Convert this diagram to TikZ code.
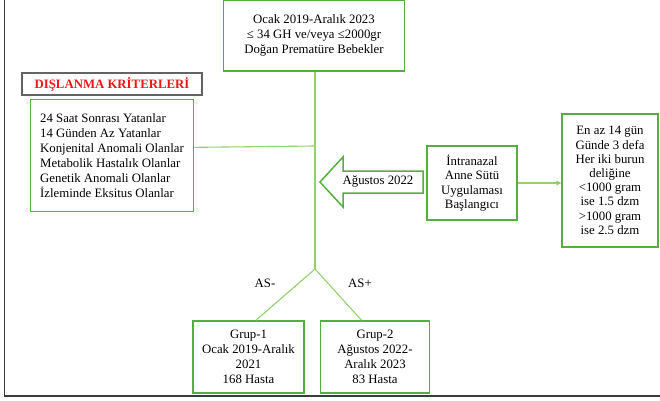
\documentclass[tikz,border=0pt]{standalone}
\usepackage{fontspec}
\setmainfont{Liberation Serif}
\usetikzlibrary{positioning,arrows.meta}
\definecolor{boxgreen}{RGB}{84,176,60}
\definecolor{linegreen}{RGB}{146,208,112}
\definecolor{framegray}{RGB}{60,60,60}
\definecolor{titlered}{RGB}{240,20,20}

\begin{document}
\begin{tikzpicture}[
        x=1pt, y=1pt,
        node distance=3pt,
        box/.style={rectangle, draw=boxgreen, line width=1.5pt, fill=white, align=center, inner sep=2pt, font=\fontsize{12.8}{15}\selectfont},
        tightbox/.style={box, font=\fontsize{12.8}{14.2}\selectfont},
        label/.style={font=\fontsize{12.8}{15}\selectfont},
        link/.style={draw=linegreen, line width=1.1pt},
        arrow/.style={-{Triangle[length=5pt,width=5pt]}, link},
        blockarrow/.style={draw=boxgreen, line width=1.5pt, fill=white, line join=miter}
    ]
        \useasboundingbox (0,0) rectangle (660,400);

        % Frame
        \draw[framegray, line width=1pt] (4.5,400) -- (4.5,4.5);
        \draw[framegray, line width=2pt] (4,4.5) -- (660,4.5);

        % Cohort
        \node[box, minimum width=181pt, minimum height=71pt] (cohort) at (314,364.5) {Ocak 2019-Aralık 2023\\≤ 34 GH ve/veya ≤2000gr\\Doğan Prematüre Bebekler};

        % Exclusion criteria
        \node[draw=framegray!80, line width=1.2pt, minimum width=180pt, minimum height=22pt, inner sep=1pt, font=\fontsize{12.8}{15}\selectfont\bfseries, text=titlered] (exclhead) at (112,316) {DIŞLANMA KRİTERLERİ};
        \node[box, align=left, minimum width=163pt, minimum height=112pt, below=3pt of exclhead] (excl) {24 Saat Sonrası Yatanlar\\14 Günden Az Yatanlar\\Konjenital Anomali Olanlar\\Metabolik Hastalık Olanlar\\Genetik Anomali Olanlar\\İzleminde Eksitus Olanlar};

        % Intervention
        \node[tightbox, minimum width=90pt, minimum height=74pt] (intra) at (472,217) {İntranazal\\Anne Sütü\\Uygulaması\\Başlangıcı};
        \node[tightbox, minimum width=96pt, minimum height=133pt] (dose) at (610,219.5) {En az 14 gün\\Günde 3 defa\\Her iki burun\\deliğine\\<1000 gram\\ise 1.5 dzm\\>1000 gram\\ise 2.5 dzm};

        % Groups
        \node[box, minimum width=111pt, minimum height=72pt] (grup1) at (248.5,43) {Grup-1\\Ocak 2019-Aralık\\2021\\168 Hasta};
        \node[box, minimum width=109pt, minimum height=72pt, right=15pt of grup1] (grup2) {Grup-2\\Ağustos 2022-\\Aralık 2023\\83 Hasta};

        % Block arrow
        \draw[blockarrow] (320,218) -- (343,243) -- (343,229) -- (423,229) -- (423,207) -- (343,207) -- (343,193) -- cycle;
        \node[label] (aug) at (378,218) {Ağustos 2022};

        % Lines
        \coordinate (split) at (315,131);
        \coordinate (joint) at (315,254);
        \draw[link] (cohort.south -| split) -- (split);
        \draw[link] ([yshift=8pt]excl.east) -- (joint);
        \draw[link] (split) -- ([xshift=7.5pt]grup1.north);
        \draw[link] (split) -- ([xshift=-13.5pt]grup2.north);
        \draw[arrow] (intra.east) -- (intra.east -| dose.west);

        % Branch labels
        \node[label] (asneg) at (265,117) {AS-};
        \node[label] (aspos) at (360,117) {AS+};
    \end{tikzpicture}
\end{document}
